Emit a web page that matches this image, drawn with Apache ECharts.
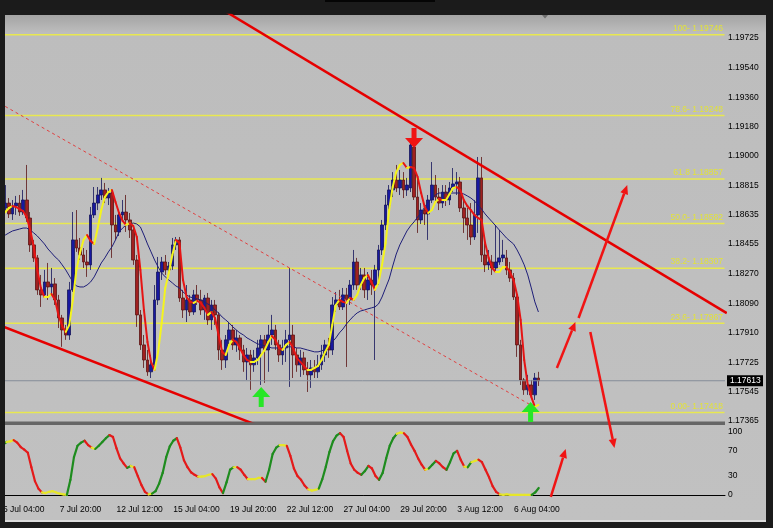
<!DOCTYPE html>
<html><head><meta charset="utf-8">
<script src="https://cdn.jsdelivr.net/npm/echarts@6/dist/echarts.min.js"></script>
<style>html,body{margin:0;padding:0;background:#1b1b1b;overflow:hidden}#c{width:773px;height:528px}</style>
</head><body><div id="c"></div>
<script>
// ---- data (H4 bars, price) ----
const open = [1.18635,1.18677,1.18708,1.18641,1.18690,1.18708,1.18653,1.18727,1.18616,1.18450,
1.18370,1.18173,1.18142,1.18222,1.18191,1.18210,1.18111,1.18000,1.17926,1.17895,
1.18173,1.18481,1.18431,1.18388,1.18345,1.18327,1.18635,1.18708,1.18758,1.18789,
1.18739,1.18770,1.18573,1.18530,1.18635,1.18653,1.18604,1.18542,1.18357,1.18019,
1.17834,1.17741,1.17668,1.17711,1.18111,1.18283,1.18345,1.18296,1.18320,1.18450,
1.18481,1.18123,1.18049,1.18111,1.18037,1.18142,1.18111,1.18049,1.18123,1.17988,
1.18080,1.18019,1.17803,1.17741,1.17865,1.17926,1.17834,1.17877,1.17803,1.17729,
1.17772,1.17711,1.17754,1.17815,1.17865,1.17803,1.17895,1.17926,1.17834,1.17772,
1.17815,1.17865,1.17895,1.17772,1.17711,1.17754,1.17680,1.17649,1.17692,1.17668,
1.17711,1.17772,1.17834,1.17803,1.18080,1.18111,1.18068,1.18142,1.18111,1.18203,
1.18345,1.18203,1.18265,1.18173,1.18234,1.18203,1.18296,1.18419,1.18573,1.18696,
1.18789,1.18850,1.18801,1.18850,1.18789,1.18801,1.19053,1.18745,1.18604,1.18665,
1.18641,1.18727,1.18819,1.18745,1.18708,1.18776,1.18727,1.18801,1.18826,1.18838,
1.18678,1.18616,1.18573,1.18499,1.18635,1.18863,1.18388,1.18327,1.18345,1.18308,
1.18345,1.18370,1.18370,1.18296,1.18246,1.18129,1.17834,1.17618,1.17557,1.17587,
1.17526,1.17630];
const close = [1.18677,1.18708,1.18641,1.18690,1.18708,1.18653,1.18727,1.18616,1.18450,1.18370,
1.18173,1.18142,1.18222,1.18191,1.18210,1.18111,1.18000,1.17926,1.17895,1.18173,
1.18481,1.18431,1.18388,1.18345,1.18327,1.18635,1.18708,1.18758,1.18789,1.18739,
1.18770,1.18573,1.18530,1.18635,1.18653,1.18604,1.18542,1.18357,1.18019,1.17834,
1.17741,1.17668,1.17711,1.18111,1.18283,1.18345,1.18296,1.18320,1.18450,1.18481,
1.18123,1.18049,1.18111,1.18037,1.18142,1.18111,1.18049,1.18123,1.17988,1.18080,
1.18019,1.17803,1.17741,1.17865,1.17926,1.17834,1.17877,1.17803,1.17729,1.17772,
1.17711,1.17754,1.17815,1.17865,1.17803,1.17895,1.17926,1.17834,1.17772,1.17815,
1.17865,1.17895,1.17772,1.17711,1.17754,1.17680,1.17649,1.17692,1.17668,1.17711,
1.17772,1.17834,1.17803,1.18080,1.18111,1.18068,1.18142,1.18111,1.18203,1.18345,
1.18203,1.18265,1.18173,1.18234,1.18203,1.18296,1.18419,1.18573,1.18696,1.18789,
1.18850,1.18801,1.18850,1.18789,1.18819,1.19066,1.18745,1.18604,1.18665,1.18641,
1.18727,1.18819,1.18745,1.18708,1.18776,1.18727,1.18801,1.18826,1.18838,1.18678,
1.18616,1.18573,1.18499,1.18635,1.18863,1.18388,1.18327,1.18345,1.18308,1.18345,
1.18370,1.18388,1.18296,1.18246,1.18129,1.17834,1.17618,1.17557,1.17587,1.17526,
1.17630,1.17613];
const low = [1.18616,1.18653,1.18616,1.18604,1.18635,1.18629,1.18635,1.18592,1.18407,1.18345,
1.18142,1.18068,1.18123,1.18111,1.18142,1.18080,1.17938,1.17822,1.17865,1.17865,
1.18160,1.18407,1.18357,1.18308,1.18253,1.18296,1.18616,1.18665,1.18727,1.18708,
1.18696,1.18370,1.18481,1.18505,1.18604,1.18530,1.18493,1.18327,1.17945,1.17803,
1.17692,1.17643,1.17630,1.17680,1.18080,1.18234,1.18265,1.18265,1.18296,1.18419,
1.18099,1.18000,1.17975,1.18012,1.18019,1.18080,1.18019,1.17988,1.17957,1.17926,
1.17957,1.17741,1.17680,1.17692,1.17834,1.17803,1.17791,1.17741,1.17668,1.17618,
1.17557,1.17668,1.17711,1.17587,1.17600,1.17668,1.17834,1.17803,1.17729,1.17711,
1.17729,1.17575,1.17630,1.17668,1.17637,1.17649,1.17544,1.17569,1.17630,1.17630,
1.17680,1.17729,1.17754,1.17772,1.18037,1.18049,1.18049,1.17698,1.18080,1.18173,
1.18173,1.18173,1.18123,1.18111,1.18142,1.17741,1.18203,1.18388,1.18542,1.18653,
1.18745,1.18776,1.18758,1.18739,1.18752,1.18776,1.18727,1.18524,1.18579,1.18573,
1.18481,1.18708,1.18715,1.18665,1.18678,1.18690,1.18696,1.18776,1.18758,1.18653,
1.18524,1.18481,1.18450,1.18481,1.18524,1.18345,1.18283,1.18296,1.18265,1.18277,
1.18327,1.18345,1.18265,1.18222,1.18111,1.17760,1.17587,1.17526,1.17526,1.17507,
1.17495,1.17581];
const high = [1.18727,1.18819,1.18739,1.18727,1.18752,1.18758,1.18789,1.18943,1.18653,1.18481,
1.18388,1.18265,1.18296,1.18339,1.18308,1.18246,1.18142,1.18019,1.17957,1.18222,
1.18653,1.18665,1.18493,1.18431,1.18419,1.18684,1.18807,1.18807,1.18863,1.18832,
1.18801,1.18789,1.18635,1.18653,1.18727,1.18758,1.18647,1.18554,1.18388,1.18049,
1.17895,1.17803,1.17772,1.18203,1.18376,1.18376,1.18388,1.18345,1.18493,1.18499,
1.18499,1.18173,1.18203,1.18142,1.18173,1.18203,1.18173,1.18142,1.18154,1.18111,
1.18111,1.18037,1.17865,1.17895,1.17975,1.17957,1.17926,1.17895,1.17834,1.17815,
1.17803,1.17803,1.17865,1.17895,1.17895,1.17957,1.18019,1.17957,1.17865,1.17865,
1.17926,1.18308,1.17957,1.17815,1.17803,1.17791,1.17729,1.17741,1.17741,1.17772,
1.17834,1.17865,1.17877,1.18129,1.18160,1.18173,1.18185,1.18185,1.18234,1.18419,
1.18370,1.18308,1.18308,1.18283,1.18296,1.18327,1.18450,1.18604,1.18758,1.18819,
1.18899,1.18943,1.18912,1.18899,1.18863,1.19097,1.19078,1.18869,1.18708,1.18696,
1.18758,1.18961,1.18881,1.18801,1.18819,1.18819,1.18838,1.18924,1.18899,1.18869,
1.18727,1.18678,1.18708,1.18727,1.18992,1.18992,1.18462,1.18419,1.18388,1.18573,
1.18542,1.18481,1.18419,1.18345,1.18277,1.18154,1.17865,1.17630,1.17649,1.17618,
1.17661,1.17668];
const fastMA = [1.18635,1.18653,1.18677,1.18690,1.18684,1.18671,1.18659,1.18622,1.18542,1.18438,
1.18296,1.18185,1.18129,1.18129,1.18148,1.18111,1.18012,1.17951,1.17914,1.17957,
1.18111,1.18296,1.18401,1.18481,1.18511,1.18474,1.18456,1.18554,1.18665,1.18745,
1.18776,1.18789,1.18715,1.18647,1.18598,1.18573,1.18585,1.18567,1.18499,1.18296,
1.18049,1.17852,1.17729,1.17680,1.17791,1.17969,1.18185,1.18277,1.18388,1.18481,
1.18462,1.18234,1.18129,1.18099,1.18093,1.18105,1.18093,1.18062,1.18019,1.18037,
1.18000,1.17895,1.17791,1.17772,1.17834,1.17865,1.17852,1.17815,1.17772,1.17741,
1.17729,1.17729,1.17741,1.17772,1.17803,1.17852,1.17889,1.17865,1.17815,1.17803,
1.17834,1.17852,1.17815,1.17754,1.17729,1.17705,1.17680,1.17680,1.17692,1.17705,
1.17741,1.17791,1.17834,1.17957,1.18080,1.18111,1.18099,1.18093,1.18123,1.18111,
1.18142,1.18203,1.18246,1.18265,1.18222,1.18173,1.18216,1.18327,1.18462,1.18665,
1.18807,1.18899,1.18943,1.18955,1.18924,1.18930,1.18924,1.18869,1.18770,1.18684,
1.18647,1.18665,1.18715,1.18733,1.18727,1.18727,1.18764,1.18801,1.18807,1.18789,
1.18727,1.18690,1.18665,1.18635,1.18616,1.18604,1.18462,1.18370,1.18308,1.18283,
1.18283,1.18314,1.18314,1.18283,1.18234,1.18142,1.17988,1.17741,1.17587,1.17514,
1.17452,1.17464];
const slowMA = [1.18499,1.18511,1.18524,1.18536,1.18542,1.18548,1.18554,1.18554,1.18542,1.18524,
1.18505,1.18481,1.18456,1.18425,1.18401,1.18376,1.18357,1.18327,1.18296,1.18259,
1.18222,1.18197,1.18191,1.18191,1.18203,1.18222,1.18253,1.18296,1.18339,1.18370,
1.18407,1.18438,1.18481,1.18530,1.18554,1.18573,1.18579,1.18585,1.18579,1.18561,
1.18511,1.18456,1.18407,1.18357,1.18314,1.18277,1.18253,1.18234,1.18216,1.18197,
1.18185,1.18160,1.18142,1.18129,1.18123,1.18117,1.18111,1.18099,1.18086,1.18074,
1.18049,1.18031,1.18006,1.17988,1.17969,1.17945,1.17926,1.17908,1.17895,1.17877,
1.17865,1.17852,1.17840,1.17834,1.17828,1.17822,1.17815,1.17815,1.17815,1.17815,
1.17822,1.17822,1.17822,1.17815,1.17815,1.17809,1.17803,1.17797,1.17791,1.17791,
1.17797,1.17809,1.17828,1.17852,1.17877,1.17908,1.17932,1.17963,1.17988,1.18012,
1.18031,1.18043,1.18049,1.18056,1.18062,1.18068,1.18086,1.18129,1.18185,1.18240,
1.18320,1.18394,1.18450,1.18493,1.18536,1.18567,1.18592,1.18622,1.18647,1.18684,
1.18715,1.18733,1.18758,1.18770,1.18770,1.18770,1.18770,1.18770,1.18770,1.18770,
1.18764,1.18752,1.18739,1.18721,1.18696,1.18671,1.18641,1.18616,1.18592,1.18567,
1.18542,1.18518,1.18493,1.18474,1.18456,1.18419,1.18376,1.18327,1.18265,1.18185,
1.18099,1.18037];
const osc = [80,84,85,87,83,76,72,67,44,22,
10,4,3,5,6,4,2,1,0,24,
60,78,83,86,79,75,73,78,84,90,
95,92,74,58,50,43,46,44,30,16,
5,1,2,6,18,35,60,77,86,90,
75,55,44,36,32,29,29,30,32,33,
26,12,3,20,40,44,44,40,32,25,
25,25,27,27,21,40,65,75,79,79,
78,62,42,30,24,15,9,7,8,10,
25,45,68,85,94,98,92,70,50,40,
35,32,38,46,42,30,24,35,58,78,
90,97,99,98,92,80,70,58,48,40,
42,48,54,50,44,40,52,66,70,56,
45,44,52,54,56,52,40,28,14,5,
1,0,1,0,0,0,0,0,0,0,
4,11];
const tickLabels = ['5 Jul 04:00','7 Jul 20:00','12 Jul 12:00','15 Jul 04:00','19 Jul 20:00','22 Jul 12:00','27 Jul 04:00','29 Jul 20:00','3 Aug 12:00','6 Aug 04:00'];
const barsPerTick = 16;
const priceTicks = [1.19725,1.19540,1.19360,1.19180,1.19000,1.18815,1.18635,1.18455,1.18270,1.18090,1.17910,1.17725,1.17545,1.17365];
const oscTicks = [0,30,70,100];
const fibLevels = [1.19746,1.19248,1.18857,1.18582,1.18307,1.17967,1.17418];
const fibNames = ['100- 1.19746','78.6- 1.19248','61.8 1.18857','50.0- 1.18582','38.2- 1.18307','23.6- 1.17967','0.00- 1.17418'];
const lastPrice = 1.17613;
// trend lines in (bar index, price)
const upperChannel = [[60,1.19928],[204,1.18030]];
const lowerChannel = [[-1,1.17959],[72,1.17338]];
const dashedLine = [[-0.5,1.19322],[148.8,1.17464]];
// hand-drawn arrows: [x1, p1, x2, p2]
const hintArrows = [[156.2,1.17692,161.4,1.17975],[162.3,1.18000,176.0,1.18819],[165.6,1.17914,172.4,1.17199]];
const oscArrows = [[154.4,-3,158.6,73]];
// signal arrows [index, price, direction]
const signals = [[116,1.19109,-1],[73,1.17513,1],[148.8,1.17421,1]];

const N = 204;
const yMin = 1.17365, yMax = 1.19867;
const FONT = 'Liberation Sans';

const cats = Array.from({length: N}, (_, i) => String(i));
const isTick = (i) => i % barsPerTick === 0 && i / barsPerTick < tickLabels.length;
const candles = open.map((o, i) => [o, close[i], low[i], high[i]]);
const fastSeg = fastMA.slice(0, -1).map((v, i) => [i, v, fastMA[i + 1]]);
const oscSeg = osc.slice(0, -1).map((v, i) => [i, v, osc[i + 1]]);
const fibLines = fibLevels.map((v, i) => [v, fibNames[i]]);

function segRenderer(colorOf, width) {
  return function (params, api) {
    const i = api.value(0), a = api.value(1), b = api.value(2);
    const p1 = api.coord([i, a]), p2 = api.coord([i + 1, b]);
    return {type: 'line', shape: {x1: p1[0], y1: p1[1], x2: p2[0], y2: p2[1]},
      style: {stroke: colorOf(a, b), lineWidth: width, lineCap: 'round'}};
  };
}
function arrowRenderer(params, api) {
  const p1 = api.coord([api.value(0), api.value(1)]);
  const p2 = api.coord([api.value(2), api.value(3)]);
  const dx = p2[0] - p1[0], dy = p2[1] - p1[1], len = Math.hypot(dx, dy);
  const ux = dx / len, uy = dy / len, hl = 9, hw = 4;
  const bx = p2[0] - ux * hl, by = p2[1] - uy * hl;
  return {type: 'group', children: [
    {type: 'line', shape: {x1: p1[0], y1: p1[1], x2: bx, y2: by}, style: {stroke: '#f01414', lineWidth: 2.5}},
    {type: 'polygon', shape: {points: [[p2[0], p2[1]], [bx - uy * hw, by + ux * hw], [bx + uy * hw, by - ux * hw]]}, style: {fill: '#f01414'}}
  ]};
}
function signalRenderer(params, api) {
  const c = api.coord([api.value(0), api.value(1)]);
  const d = api.value(2);
  const pts = [[0,-10],[9,0],[2.5,0],[2.5,10],[-2.5,10],[-2.5,0],[-9,0]].map(p => [c[0] + p[0], c[1] + p[1] * d]);
  return {type: 'polygon', shape: {points: pts}, style: {fill: d > 0 ? '#26e626' : '#f01414'}};
}
// horizontal level across the whole plot, label right-aligned above it
function levelRenderer(color, textColor, width) {
  return function (params, api) {
    const v = api.value(0);
    const a = api.coord([-0.5, v]), b = api.coord([N - 0.5, v]);
    const name = fibLines[params.dataIndex][1];
    return {type: 'group', children: [
      {type: 'line', shape: {x1: a[0], y1: a[1], x2: b[0] - 0.5, y2: b[1]}, style: {stroke: color, lineWidth: width}},
      {type: 'text', x: b[0] - 2, y: b[1] - 1.5, style: {text: name, fill: textColor, font: '8.5px ' + FONT, align: 'right', verticalAlign: 'bottom'}}
    ]};
  };
}
function lastPriceRenderer(params, api) {
  const v = api.value(0);
  const a = api.coord([-0.5, v]), b = api.coord([N - 0.5, v]);
  return {type: 'group', children: [
    {type: 'line', shape: {x1: a[0], y1: a[1], x2: b[0], y2: b[1]}, style: {stroke: '#848c98', lineWidth: 1}},
    {type: 'rect', shape: {x: b[0] + 2, y: b[1] - 5.5, width: 36, height: 11}, style: {fill: '#000'}},
    {type: 'text', x: b[0] + 5, y: b[1], style: {text: v.toFixed(5), fill: '#fff', font: '8.5px ' + FONT, verticalAlign: 'middle'}}
  ]};
}

const chart = echarts.init(document.getElementById('c'));
chart.setOption({
  animation: false,
  backgroundColor: '#1b1b1b',
  textStyle: {fontFamily: FONT},
  graphic: {elements: [
    {type: 'rect', z: -10, shape: {x: 5, y: 15, width: 761, height: 505},
      style: {fill: {type: 'linear', x: 0, y: 0, x2: 0, y2: 1, colorStops: [
        {offset: 0, color: '#a4a4a4'}, {offset: 0.035, color: '#bdbdbd'}, {offset: 1, color: '#c1c1c1'}]}}},
    {type: 'rect', z: -9, shape: {x: 5, y: 520, width: 761, height: 2}, style: {fill: '#dcdcdc'}},
    {type: 'rect', z: -9, shape: {x: 325, y: 0, width: 110, height: 2}, style: {fill: '#050505'}},
    {type: 'rect', z: 1, shape: {x: 5, y: 421.5, width: 720, height: 3.5}, style: {fill: '#666666'}},
    {type: 'polygon', z: 5, shape: {points: [[542, 15], [548, 15], [545, 18.5]]}, style: {fill: '#6e6e6e'}},
    {type: 'rect', z: 60, shape: {x: 0, y: 0, width: 5, height: 528}, style: {fill: '#1b1b1b'}}
  ]},
  grid: [
    {left: -2, top: 15, width: 727, height: 406},
    {left: -2, top: 425, width: 727, height: 75}
  ],
  xAxis: [
    {type: 'category', gridIndex: 0, data: cats, boundaryGap: true, show: false},
    {type: 'category', gridIndex: 1, data: cats, boundaryGap: true,
      axisLine: {lineStyle: {color: '#000', width: 1}},
      axisTick: {alignWithLabel: true, interval: (i) => isTick(i), length: 3, lineStyle: {color: '#000'}},
      axisLabel: {interval: (i) => isTick(i), formatter: (v, i) => tickLabels[Math.round(i / barsPerTick)],
        align: 'left', margin: 5, fontSize: 8.5, color: '#000', fontFamily: FONT},
      splitLine: {show: false}},
    {type: 'value', gridIndex: 0, min: -0.5, max: N - 0.5, show: false},
    {type: 'value', gridIndex: 1, min: -0.5, max: N - 0.5, show: false}
  ],
  yAxis: [
    {type: 'value', gridIndex: 0, position: 'right', min: yMin, max: yMax,
      axisLine: {show: true, lineStyle: {color: '#000'}},
      axisTick: {show: true, length: 3, customValues: priceTicks, lineStyle: {color: '#000'}},
      axisLabel: {customValues: priceTicks, formatter: (v) => v.toFixed(5), fontSize: 8.5, margin: 3, color: '#000', fontFamily: FONT},
      splitLine: {show: false}},
    {type: 'value', gridIndex: 1, position: 'right', min: -8, max: 111,
      axisLine: {show: true, lineStyle: {color: '#000'}},
      axisTick: {show: false},
      axisLabel: {customValues: oscTicks, fontSize: 8.5, margin: 3, color: '#000', fontFamily: FONT},
      splitLine: {show: false}}
  ],
  series: [
    {type: 'custom', xAxisIndex: 2, yAxisIndex: 0, data: fibLines.map(f => [f[0]]), encode: {y: 0}, z: 2,
      renderItem: levelRenderer('#e8e850', '#e2e23a', 1.5)},
    {type: 'candlestick', xAxisIndex: 0, yAxisIndex: 0, data: candles, barWidth: 3.2, z: 3,
      itemStyle: {color: '#1818a0', color0: '#a02020', borderColor: '#14145a', borderColor0: '#5a1414', borderWidth: 0.8}},
    {type: 'line', xAxisIndex: 0, yAxisIndex: 0, data: slowMA, symbol: 'none', z: 4,
      lineStyle: {color: '#1e1e78', width: 1}},
    {type: 'custom', xAxisIndex: 2, yAxisIndex: 0, data: [[lastPrice]], encode: {y: 0}, z: 4,
      renderItem: lastPriceRenderer},
    {type: 'custom', xAxisIndex: 2, yAxisIndex: 0, data: fastSeg, encode: {x: 0, y: [1, 2]}, z: 5, clip: true,
      renderItem: segRenderer((a, b) => b >= a ? '#f4f41e' : '#e61414', 2)},
    {type: 'line', xAxisIndex: 2, yAxisIndex: 0, data: upperChannel, symbol: 'none', z: 6, clip: true,
      lineStyle: {color: '#e60000', width: 2.5}},
    {type: 'line', xAxisIndex: 2, yAxisIndex: 0, data: lowerChannel, symbol: 'none', z: 6, clip: true,
      lineStyle: {color: '#e60000', width: 2.5}},
    {type: 'line', xAxisIndex: 2, yAxisIndex: 0, data: dashedLine, symbol: 'none', z: 6, clip: true,
      lineStyle: {color: '#e04040', width: 1, type: [3, 3]}},
    {type: 'custom', xAxisIndex: 2, yAxisIndex: 0, data: hintArrows, encode: {x: [0, 2], y: [1, 3]}, z: 7,
      renderItem: arrowRenderer},
    {type: 'custom', xAxisIndex: 2, yAxisIndex: 0, data: signals, encode: {x: 0, y: 1}, z: 7,
      renderItem: signalRenderer},
    {type: 'custom', xAxisIndex: 3, yAxisIndex: 1, data: oscSeg, encode: {x: 0, y: [1, 2]}, z: 5,
      renderItem: segRenderer((a, b) => (b - a > 2 ? '#1e8c1e' : (b - a < -2 ? '#e41a1a' : '#e6e62a')), 2.2)},
    {type: 'custom', xAxisIndex: 3, yAxisIndex: 1, data: oscArrows, encode: {x: [0, 2], y: [1, 3]}, z: 7,
      renderItem: arrowRenderer}
  ]
});
</script>
</body></html>
